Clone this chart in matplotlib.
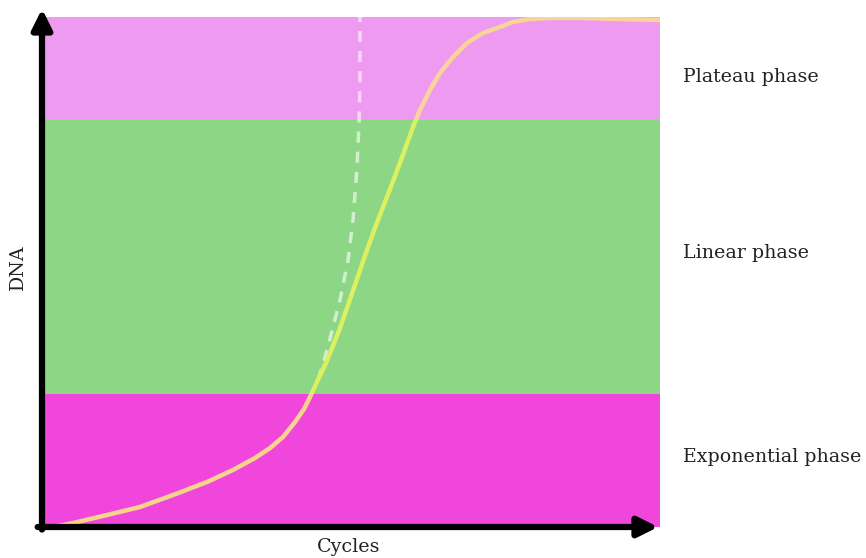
import numpy as np
import matplotlib.pyplot as plt

# phase bands (DNA scale 0-100)
band_names = ["Exponential phase", "Linear phase", "Plateau phase"]
band_lo = [0, 26.1, 79.8]
band_hi = [26.1, 79.8, 100]
band_colors = ["#F046DC", "#8DD685", "#EE9AF0"]

# amplification curve
cycles = [0.71, 2.01, 4.21, 6.34, 8.48, 10.68, 12.36, 13.79, 14.76, 15.60,
          16.38, 16.96, 17.41, 17.86, 18.38, 18.83, 19.29, 19.81, 20.39,
          20.97, 21.55, 22.20, 22.85, 23.50, 24.01, 24.47, 25.11, 25.76,
          26.60, 27.51, 28.54, 29.64, 30.49, 31.59, 32.88, 35.02, 37.22, 40.0]
dna = [0.0, 0.78, 2.35, 3.92, 6.27, 8.82, 11.18, 13.53, 15.49, 17.65,
       20.59, 23.14, 25.88, 28.82, 32.16, 35.49, 39.02, 43.53, 48.63,
       53.73, 58.63, 63.73, 68.82, 74.12, 78.43, 81.76, 85.69, 89.02,
       92.16, 94.90, 96.86, 98.04, 99.02, 99.61, 99.80, 99.80, 99.61, 99.41]

# ideal exponential continuation (dashed)
exp_cycles = [17.86, 18.40, 19.29, 19.81, 20.13, 20.39, 20.52, 20.58, 20.58]
exp_dna = [28.82, 34.12, 44.51, 52.35, 60.2, 70.59, 79.22, 87.65, 100.0]

fig = plt.figure(figsize=(8.66, 5.58), dpi=100)
ax = fig.add_axes([42/866, 1-527/558, 618/866, 510/558])
ax.set_xlim(0, 40)
ax.set_ylim(0, 100)

for lo, hi, c in zip(band_lo, band_hi, band_colors):
    ax.axhspan(lo, hi, color=c, lw=0, zorder=0)

ax.plot(exp_cycles, exp_dna, color="white", alpha=0.6, lw=2.5,
        dashes=(3.2, 2.6), zorder=2, dash_capstyle="butt")

# curve colour shifts a bit with the band behind it
x = np.array(cycles)
y = np.array(dna)
curve_cols = ["#F6D48C", "#DCF060", "#F9D49A"]
for lo, hi, c in zip(band_lo, band_hi, curve_cols):
    m = (y >= lo - 15) & (y <= hi + 15)
    seg = ax.plot(x[m], y[m], color=c, lw=3.2, zorder=3,
                  solid_capstyle="round", solid_joinstyle="round")[0]
    rect = plt.Rectangle((0, lo), 40, hi - lo, transform=ax.transData)
    seg.set_clip_path(rect)

for s in ax.spines.values():
    s.set_visible(False)
ax.set_xticks([])
ax.set_yticks([])

# axis arrows
head = "-|>,head_length=1.2,head_width=0.6"
ax.annotate("", xy=(0, 1.016), xytext=(0, -0.005), xycoords="axes fraction",
            arrowprops=dict(arrowstyle=head, lw=4.5, color="black",
                            shrinkA=0, shrinkB=0))
ax.annotate("", xy=(0.997, 0), xytext=(-0.007, 0), xycoords="axes fraction",
            arrowprops=dict(arrowstyle=head, lw=4.5, color="black",
                            shrinkA=0, shrinkB=0))

font = dict(family="DejaVu Serif", color="#222222", fontsize=13.7)
for name, py in zip(band_names, [457, 253, 77]):
    fig.text(683/866, 1 - py/558, name, ha="left", va="center", **font)

fig.text(349/866, 1 - 547/558, "Cycles", ha="center", va="center", **font)
fig.text(18/866, 1 - 268/558, "DNA", ha="center", va="center", rotation=90, **font)

fig.savefig("out.png", dpi=100)
